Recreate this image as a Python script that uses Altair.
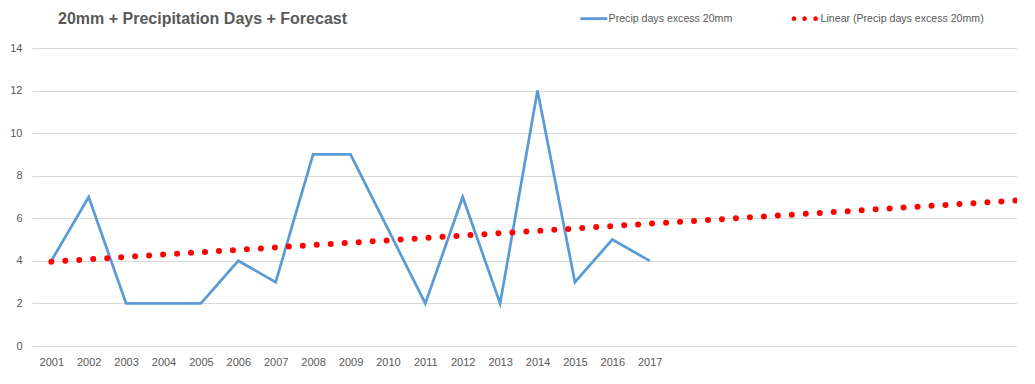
import altair as alt
import pandas as pd

# ---- data ----
years = [2001, 2002, 2003, 2004, 2005, 2006, 2007, 2008, 2009,
         2010, 2011, 2012, 2013, 2014, 2015, 2016, 2017]
precip_days = [4, 7, 2, 2, 2, 4, 3, 9, 9, 5.5, 2, 7, 2, 12, 3, 5, 4]
forecast_end = 2027          # linear trend forecast 10 periods forward
series_names = ["Precip days excess 20mm", "Linear (Precip days excess 20mm)"]
y_ticks = [0, 2, 4, 6, 8, 10, 12, 14]

df = pd.DataFrame({"year": years, "days": precip_days})
legend_df = pd.DataFrame({"series": series_names})

BLUE = "#5b9bd5"
RED = "#ff0000"
GREY = "#595959"
FONT = "Liberation Sans"

x_enc = alt.X("year:Q",
              scale=alt.Scale(domain=[2000.484, 2026.82], nice=False, zero=False),
              axis=alt.Axis(values=years, format="d", title=None, grid=False,
                            domain=False, ticks=False, tickSize=0,
                            labelPadding=10.2, labelFontSize=11, labelFont=FONT,
                            labelColor=GREY, labelFlush=False, labelOverlap=False))
y_enc = alt.Y("days:Q",
              scale=alt.Scale(domain=[0, 14], nice=False),
              axis=alt.Axis(values=y_ticks, title=None, grid=True,
                            gridColor="#d9d9d9", gridWidth=1,
                            domain=False, ticks=False, tickSize=0,
                            labelPadding=10, labelFontSize=11, labelFont=FONT,
                            labelColor=GREY, minExtent=24, maxExtent=24))

actual = alt.Chart(df).mark_line(color=BLUE, strokeWidth=2.75).encode(
    x=x_enc, y=y_enc)

trend = alt.Chart(df).transform_regression(
    "year", "days", method="linear", extent=[years[0], forecast_end]
).mark_line(color=RED, strokeWidth=6, strokeDash=[0, 14], strokeCap="round",
            clip=True).encode(
    x=x_enc, y=y_enc)

# legend symbols (symbol size 16 -> path unit = 2px)
line_path = "M-1,-0.7L12.5,-0.7L12.5,0.7L-1,0.7Z"
r = 1.15
def circ(cx):
    return (f"M{cx - r},0a{r},{r} 0 1,0 {2*r},0a{r},{r} 0 1,0 {-2*r},0Z")
dots_path = circ(-0.15) + circ(5.15) + circ(10.65)

legend_layer = alt.Chart(legend_df).mark_point(filled=True, opacity=0, size=16).encode(
    color=alt.Color("series:N",
                    scale=alt.Scale(domain=series_names, range=[BLUE, RED]),
                    legend=alt.Legend(orient="none", legendX=545, legendY=-34.7,
                                      direction="horizontal", title=None,
                                      symbolOpacity=1, symbolSize=16,
                                      symbolStrokeWidth=0,
                                      labelFont=FONT, labelFontSize=10.6,
                                      labelColor=GREY, labelOffset=21,
                                      labelLimit=400,
                                      columnPadding=56, padding=0)),
    shape=alt.Shape("series:N",
                    scale=alt.Scale(domain=series_names, range=[line_path, dots_path]),
                    legend=None),
)

chart = alt.layer(actual, trend, legend_layer).properties(
    width=985, height=298,
    padding={"left": 0, "right": 0, "top": 3, "bottom": 0},
    title=alt.TitleParams("20mm + Precipitation Days + Forecast",
                          anchor="start", frame="group", dx=26, offset=-14.1,
                          font=FONT, fontSize=16, fontWeight="bold", color=GREY),
).configure_view(stroke=None)

chart.save("out.html", embed_options={"renderer": "svg", "actions": False})
